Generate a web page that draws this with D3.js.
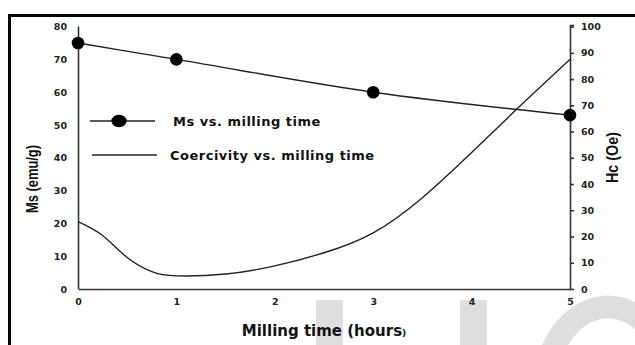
<!DOCTYPE html>
<html>
<head>
<meta charset="utf-8">
<script src="https://cdn.jsdelivr.net/npm/d3@7"></script>
<style>
  body { margin: 0; background: #fff; }
  svg { display: block; }
  .tick-label { font-family: "DejaVu Sans", sans-serif; font-weight: bold; font-size: 9.5px; fill: #222; }
</style>
</head>
<body>
<div id="chart"></div>
<script>
/**
 * DATA
 * */
const msTime = [0, 1, 3, 5];
const msValues = [75, 70, 60, 53];

const hcTime = [0, 0.25, 0.5, 0.75, 1, 1.5, 2, 2.5, 3, 3.5, 4, 4.5, 5];
const hcValues = [25.7, 20.4, 12.0, 6.6, 5.0, 5.7, 8.8, 13.8, 21.4, 34.8, 52, 70, 87.5];

const xTicks = [0, 1, 2, 3, 4, 5];
const msTicks = [0, 10, 20, 30, 40, 50, 60, 70, 80];
const hcTicks = [0, 10, 20, 30, 40, 50, 60, 70, 80, 90, 100];

const legendLabels = ["Ms vs. milling time", "Coercivity vs. milling time"];

/**
 * CONSTANTS
 * */
const width = 635,
  height = 345,
  margin = { top: 26.6, bottom: 56, left: 78, right: 65 };

const svg = d3
  .select("#chart")
  .append("svg")
  .attr("width", width)
  .attr("height", height);

// watermark fragments (light grey, behind everything)
const wm = svg.append("g").attr("fill", "#dedede");
wm.append("rect").attr("x", 316).attr("y", 300).attr("width", 27).attr("height", 50);
wm.append("rect").attr("x", 460).attr("y", 300).attr("width", 27).attr("height", 50);
wm.append("ellipse")
  .attr("cx", 608).attr("cy", 400)
  .attr("rx", 66).attr("ry", 93)
  .attr("fill", "none")
  .attr("stroke", "#dedede")
  .attr("stroke-width", 23);

// outer frame (top + left edge visible)
svg.append("path")
  .attr("d", "M8,15.5 H640 M9.5,15 V350")
  .attr("stroke", "#000")
  .attr("stroke-width", 3)
  .attr("fill", "none");

// SCALES
const xScale = d3.scaleLinear()
  .domain([0, 5])
  .range([margin.left, width - margin.right]);

const msScale = d3.scaleLinear()
  .domain([0, 80])
  .range([height - margin.bottom, margin.top]);

const hcScale = d3.scaleLinear()
  .domain([0, 100])
  .range([height - margin.bottom, margin.top]);

// AXES
const xAxis = d3.axisBottom(xScale).tickValues(xTicks).tickSize(0).tickPadding(9).tickFormat(d3.format("d"));
const yAxis = d3.axisLeft(msScale).tickValues(msTicks).tickSize(0).tickPadding(11).tickFormat(d3.format("d"));
const y2Axis = d3.axisRight(hcScale).tickValues(hcTicks).tickSize(4).tickPadding(7).tickFormat(d3.format("d"));

function styleAxis(g) {
  g.select(".domain").attr("stroke", "#333").attr("stroke-width", 1.6);
  g.selectAll(".tick line").attr("stroke", "#333").attr("stroke-width", 1.6);
  g.selectAll(".tick text").attr("class", "tick-label").attr("fill", "#222").attr("font-size", null).attr("font-family", null);
  g.attr("font-family", null).attr("font-size", null);
}

svg.append("g")
  .attr("transform", `translate(0,${height - margin.bottom})`)
  .call(xAxis)
  .call(styleAxis);

svg.append("g")
  .attr("transform", `translate(${margin.left},0)`)
  .call(yAxis)
  .call(styleAxis)
  .call(g => g.select(".domain").attr("d", `M0.5,${margin.top} V${height - margin.bottom}`));

svg.append("g")
  .attr("transform", `translate(${width - margin.right},0)`)
  .call(y2Axis)
  .call(styleAxis)
  .call(g => g.select(".domain").attr("d", `M4,${margin.top - 1}H0.5V${height - margin.bottom}`));

// AXIS TITLES
svg.append("text")
  .attr("transform", `translate(${(margin.left + width - margin.right) / 2},336)`)
  .attr("text-anchor", "middle")
  .attr("font-family", "DejaVu Sans, sans-serif")
  .attr("font-weight", "bold")
  .attr("font-size", 15)
  .attr("fill", "#111")
  .text("Milling time (hours")
  .append("tspan")
  .attr("font-size", 9)
  .text(")");

svg.append("text")
  .attr("transform", "translate(38,179) rotate(-90)")
  .attr("text-anchor", "middle")
  .attr("font-family", "Liberation Sans, Arial, sans-serif")
  .attr("font-weight", "bold")
  .attr("font-size", 17)
  .attr("textLength", 68)
  .attr("lengthAdjust", "spacingAndGlyphs")
  .attr("fill", "#111")
  .text("Ms (emu/g)");

svg.append("text")
  .attr("transform", "translate(618,157.5) rotate(-90)")
  .attr("text-anchor", "middle")
  .attr("font-family", "Liberation Sans, Arial, sans-serif")
  .attr("font-weight", "bold")
  .attr("font-size", 17)
  .attr("textLength", 51)
  .attr("lengthAdjust", "spacingAndGlyphs")
  .attr("fill", "#111")
  .text("Hc (Oe)");

// LINES
const msData = msTime.map((t, i) => ({ t, v: msValues[i] }));
const hcData = hcTime.map((t, i) => ({ t, v: hcValues[i] }));

const msLine = d3.line()
  .x(d => xScale(d.t))
  .y(d => msScale(d.v))
  .curve(d3.curveMonotoneX);

const hcLine = d3.line()
  .x(d => xScale(d.t))
  .y(d => hcScale(d.v))
  .curve(d3.curveNatural);

svg.append("path")
  .datum(hcData)
  .attr("d", hcLine)
  .attr("fill", "none")
  .attr("stroke", "#222")
  .attr("stroke-width", 1.4);

svg.append("path")
  .datum(msData)
  .attr("d", msLine)
  .attr("fill", "none")
  .attr("stroke", "#222")
  .attr("stroke-width", 1.4);

svg.selectAll(".dot")
  .data(msData)
  .join("circle")
  .attr("class", "dot")
  .attr("cx", d => xScale(d.t))
  .attr("cy", d => msScale(d.v))
  .attr("r", 6.3)
  .attr("fill", "#000");

// LEGEND
const legend = svg.append("g");
const legendRows = [
  { label: legendLabels[0], y: 121, x1: 90, x2: 155, dot: true, tx: 173 },
  { label: legendLabels[1], y: 155, x1: 92, x2: 157, dot: false, tx: 170 }
];

legendRows.forEach(r => {
  legend.append("line")
    .attr("x1", r.x1).attr("x2", r.x2)
    .attr("y1", r.y).attr("y2", r.y)
    .attr("stroke", "#222")
    .attr("stroke-width", 1.4);
  if (r.dot) {
    legend.append("ellipse")
      .attr("cx", 119).attr("cy", r.y)
      .attr("rx", 7.6).attr("ry", 6.2)
      .attr("fill", "#000");
  }
  legend.append("text")
    .attr("x", r.tx)
    .attr("y", r.y + 4.5)
    .attr("font-family", "DejaVu Sans, sans-serif")
    .attr("font-weight", "bold")
    .attr("font-size", 13)
    .attr("letter-spacing", 0.5)
    .attr("fill", "#111")
    .text(r.label);
});
</script>
</body>
</html>
